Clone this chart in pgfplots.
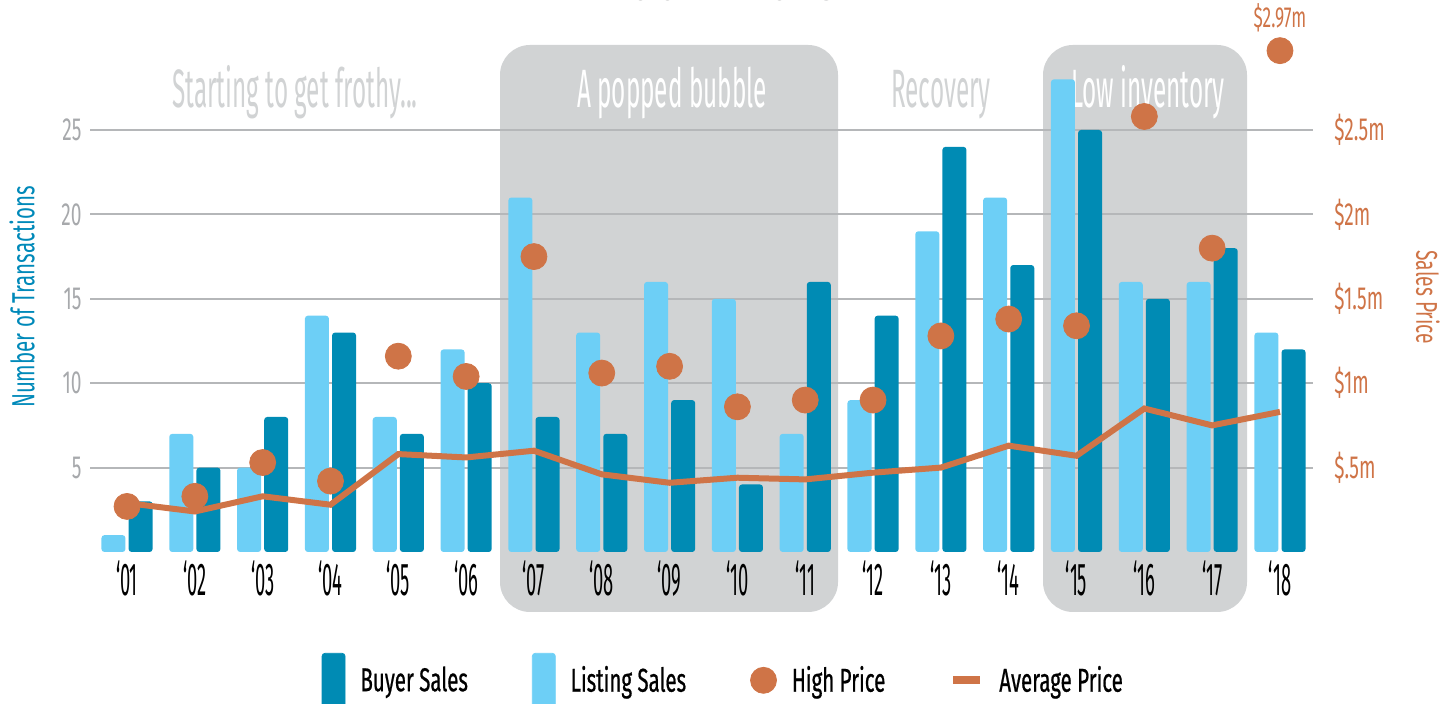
\documentclass[border=0pt]{standalone}
\usepackage{fontspec}
\setmainfont[FakeStretch=0.64]{Fira Sans}
\newfontfamily\narrowfont[FakeStretch=0.45]{Fira Sans}
\newfontfamily\xfont[FakeStretch=0.4]{Fira Sans}
\newfontfamily\tickfont[FakeStretch=0.6]{Fira Sans}
\newfontfamily\legfont[FakeStretch=0.62,FakeBold=0.6]{Fira Sans}
\usepackage{pgfplots}
\usepackage{pgfplotstable}
\pgfplotsset{compat=1.18}
\definecolor{darkblue}{HTML}{008BB4}
\definecolor{lightblue}{HTML}{6DCFF6}
\definecolor{orangep}{HTML}{CF7447}
\definecolor{boxgray}{HTML}{D1D3D4}
\definecolor{gridgray}{HTML}{B5B7B9}
\definecolor{tickgray}{HTML}{A7A9AC}
\definecolor{labelblue}{HTML}{0089B9}
\definecolor{titlegray}{HTML}{58595B}

\pgfplotstableread{
x listing buyer high avg
1 1 3 0.27 0.29
2 7 5 0.33 0.24
3 5 8 0.53 0.33
4 14 13 0.42 0.28
5 8 7 1.16 0.58
6 12 10 1.04 0.56
7 21 8 1.75 0.60
8 13 7 1.06 0.46
9 16 9 1.10 0.41
10 15 4 0.86 0.44
11 7 16 0.90 0.43
12 9 14 0.90 0.47
13 19 24 1.28 0.50
14 21 17 1.38 0.63
15 28 25 1.34 0.57
16 16 15 2.58 0.85
17 16 18 1.80 0.75
18 13 12 2.97 0.83
}\datatable

\begin{document}
\begin{tikzpicture}[x=0.5pt,y=0.5pt]
\useasboundingbox (0,0) rectangle (1455,704);
% partially visible title
\node[anchor=base, text=titlegray, font=\bfseries\fontsize{36}{36}\selectfont] at (722,704.5) {2001 - 2018};
% shaded periods
\fill[boxgray, rounded corners=15pt] (500,92) rectangle (838,659);
\fill[boxgray, rounded corners=15pt] (1043,92) rectangle (1247,659);
% period annotations
\node[anchor=base, text=boxgray, font=\narrowfont\fontsize{27}{27}\selectfont] at (295,596) {Starting to get frothy...};
\node[anchor=base, text=white, font=\narrowfont\fontsize{27}{27}\selectfont] at (672,596) {A popped bubble};
\node[anchor=base, text=boxgray, font=\narrowfont\fontsize{27}{27}\selectfont] at (941,596) {Recovery};
\node[anchor=base, text=white, font=\narrowfont\fontsize{27}{27}\selectfont] at (1148,596) {Low inventory};

\begin{axis}[
  at={(45pt,76pt)}, anchor=south west, scale only axis,
  width=611.5pt, height=211pt,
  xmin=0.454, xmax=18.487, ymin=0, ymax=25,
  clip=false,
  axis line style={draw=none}, tick style={draw=none},
  ybar, bar width=0.354,
  ymajorgrids, grid style={gridgray, line width=1pt},
  ytick={5,10,15,20,25}, yticklabels={5,10,15,20,25},
  yticklabel style={text=tickgray, font=\tickfont\fontsize{16}{16}\selectfont, inner sep=0pt, xshift=-4pt},
  xtick={1,...,18},
  xticklabels={‘01,‘02,‘03,‘04,‘05,‘06,‘07,‘08,‘09,‘10,‘11,‘12,‘13,‘14,‘15,‘16,‘17,‘18},
  xticklabel style={text=black, font=\xfont\fontsize{23}{23}\selectfont, inner sep=0pt, yshift=0pt},
  ylabel={Number of Transactions},
  every axis y label/.style={at={(axis description cs:-0.0556,0.604)}, rotate=90, anchor=center, text=labelblue, font=\fontsize{16}{16}\selectfont},
]
\addplot[fill=lightblue, draw=none, bar shift=-0.2, rounded corners=1.5pt] table[x=x, y=listing] {\datatable};
\addplot[fill=darkblue, draw=none, bar shift=0.2, rounded corners=1.5pt] table[x=x, y=buyer] {\datatable};
\end{axis}

\begin{axis}[
  at={(45pt,76pt)}, anchor=south west, scale only axis,
  width=611.5pt, height=211pt,
  xmin=0.454, xmax=18.487, ymin=0, ymax=2.5,
  clip=false,
  axis line style={draw=none}, tick style={draw=none},
  xtick=\empty,
  ytick={0.5,1,1.5,2,2.5},
  yticklabels={\$.5m,\$1m,\$1.5m,\$2m,\$2.5m},
  yticklabel pos=right,
  yticklabel style={text=orangep, font=\tickfont\fontsize{16}{16}\selectfont, inner sep=0pt, xshift=10.5pt, anchor=west},
  ylabel={Sales Price},
  every axis y label/.style={at={(axis description cs:1.094,0.604)}, rotate=-90, anchor=center, text=orangep, font=\fontsize{15}{15}\selectfont},
  legend columns=4,
  legend cell align=left,
  legend style={draw=none, fill=none, at={(axis description cs:0.5186,-0.310)}, anchor=center,
    font=\legfont\fontsize{16.5}{16.5}\selectfont,
    /tikz/every odd column/.append style={column sep=5.5pt},
    /tikz/every even column/.append style={column sep=30pt}},
]
\addlegendimage{legend image code/.code={\fill[darkblue, rounded corners=1.5pt] (0pt,-16pt) rectangle (11.5pt,13.5pt);}}
\addlegendentry{Buyer Sales}
\addlegendimage{legend image code/.code={\fill[lightblue, rounded corners=1.5pt] (0pt,-16pt) rectangle (11.5pt,13.5pt);}}
\addlegendentry{Listing Sales}
\addlegendimage{legend image code/.code={\fill[orangep] (6.5pt,0pt) circle (6.5pt);}}
\addlegendentry{High Price}
\addlegendimage{legend image code/.code={\draw[orangep, line width=4pt] (0pt,0pt) -- (13.5pt,0pt);}}
\addlegendentry{Average Price}
\addplot[orangep, line width=3pt, no marks, forget plot] table[x=x, y=avg] {\datatable};
\addplot[only marks, mark=*, mark size=6.5pt, color=orangep, forget plot] table[x=x, y=high] {\datatable};
\node[text=orangep, font=\tickfont\fontsize{14.5}{14.5}\selectfont] at (axis cs:18,2.97) [yshift=16.5pt] {\$2.97m};
\end{axis}
\end{tikzpicture}
\end{document}
